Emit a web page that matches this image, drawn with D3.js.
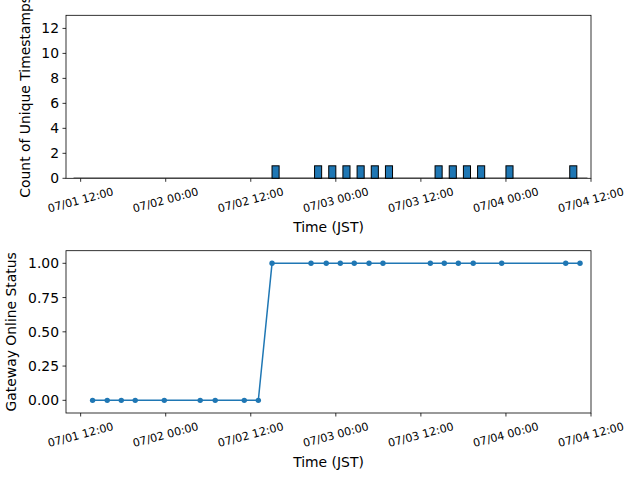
<!DOCTYPE html>
<html>
<head>
<meta charset="utf-8">
<script src="https://cdn.jsdelivr.net/npm/d3@7"></script>
<style>
body { margin: 0; background: #fff; }
svg { display: block; font-family: "DejaVu Sans", sans-serif; }
</style>
</head>
<body>
<svg width="640" height="480"></svg>
<script>
// histogram: hourly bins that hold one unique timestamp each
var histBinStarts = ["2024-07-02 15:00", "2024-07-02 21:00", "2024-07-02 23:00", "2024-07-03 01:00",
	"2024-07-03 03:00", "2024-07-03 05:00", "2024-07-03 07:00", "2024-07-03 14:00", "2024-07-03 16:00",
	"2024-07-03 18:00", "2024-07-03 20:00", "2024-07-04 00:00", "2024-07-04 09:00"];
var histCounts = [1, 1, 1, 1, 1, 1, 1, 1, 1, 1, 1, 1, 1];
var histRange = ["2024-07-01 11:00", "2024-07-04 11:30"];

// gateway status samples
var statusTimes = ["2024-07-01 13:41", "2024-07-01 15:45", "2024-07-01 17:44", "2024-07-01 19:42",
	"2024-07-01 23:48", "2024-07-02 04:52", "2024-07-02 06:59", "2024-07-02 11:05", "2024-07-02 13:04",
	"2024-07-02 15:00", "2024-07-02 20:30", "2024-07-02 22:39", "2024-07-03 00:38", "2024-07-03 02:36",
	"2024-07-03 04:41", "2024-07-03 06:39", "2024-07-03 13:20", "2024-07-03 15:18", "2024-07-03 17:17",
	"2024-07-03 19:23", "2024-07-03 23:24", "2024-07-04 08:26", "2024-07-04 10:27"];
var statusValues = [0, 0, 0, 0, 0, 0, 0, 0, 0,
	1, 1, 1, 1, 1, 1, 1, 1, 1, 1, 1, 1, 1, 1];

var countTicks = [0, 2, 4, 6, 8, 10, 12];
var statusTicks = [0, 0.25, 0.5, 0.75, 1];
var xDomain = ["2024-07-01 09:56", "2024-07-04 12:00"];

var parse = d3.timeParse("%Y-%m-%d %H:%M"),
	fmt = d3.timeFormat("%m/%d %H:%M"),
	blue = "#1f77b4";

var svg = d3.select("svg");

var x = d3.scaleTime().domain(xDomain.map(parse)).range([66, 591]);
var timeTicks = d3.timeHour.every(12).range(x.domain()[0], d3.timeMinute.offset(x.domain()[1], 1));

var yTop = d3.scaleLinear().domain([0, 13.05]).range([178.3, 15.3]);
var yBot = d3.scaleLinear().domain([-0.0925, 1.092]).range([413, 250.7]);

function frame(y, top, bottom) {
	var g = svg.append("g");
	// x ticks
	timeTicks.forEach(function (t) {
		var tx = x(t);
		g.append("line").attr("x1", tx).attr("x2", tx).attr("y1", bottom).attr("y2", bottom + 3.5)
			.attr("stroke", "#000").attr("stroke-width", 0.8);
		var lab = g.append("text").text(fmt(t)).attr("font-size", 11.1).attr("fill", "#000")
			.attr("text-anchor", "middle").attr("dominant-baseline", "central");
		var w = lab.node().getComputedTextLength(),
			h = w * Math.sin(15 * Math.PI / 180) + 13 * Math.cos(15 * Math.PI / 180),
			cy = bottom + 7 + h / 2;
		lab.attr("x", tx).attr("y", cy).attr("transform", "rotate(-15," + tx + "," + cy + ")");
	});
	g.append("text").text("Time (JST)").attr("x", (66 + 591) / 2).attr("y", bottom + 54)
		.attr("text-anchor", "middle").attr("font-size", 13.9).attr("fill", "#000");
	return g;
}

function yTicks(g, y, vals, f) {
	vals.forEach(function (v) {
		g.append("line").attr("x1", 62.5).attr("x2", 66).attr("y1", y(v)).attr("y2", y(v))
			.attr("stroke", "#000").attr("stroke-width", 0.8);
		g.append("text").text(f(v)).attr("x", 59).attr("y", y(v)).attr("text-anchor", "end")
			.attr("dominant-baseline", "central").attr("font-size", 13.9).attr("fill", "#000");
	});
}

// ---- top: histogram
var g1 = frame(yTop, 15.3, 178.3);
yTicks(g1, yTop, countTicks, d3.format("d"));
g1.append("text").text("Count of Unique Timestamps").attr("font-size", 13.9).attr("fill", "#000")
	.attr("text-anchor", "middle").attr("transform", "translate(30," + (15.3 + 178.3) / 2 + ") rotate(-90)");

g1.append("line").attr("x1", x(parse(histRange[0]))).attr("x2", x(parse(histRange[1])))
	.attr("y1", yTop(0) - 0.7).attr("y2", yTop(0) - 0.7).attr("stroke", "#aaa").attr("stroke-width", 1.4);

g1.selectAll(".bar").data(histBinStarts).enter().append("rect").attr("class", "bar")
	.attr("x", function (d) { return x(parse(d)); })
	.attr("width", function (d) { return x(d3.timeHour.offset(parse(d), 1)) - x(parse(d)); })
	.attr("y", function (d, i) { return yTop(histCounts[i]); })
	.attr("height", function (d, i) { return yTop(0) - yTop(histCounts[i]); })
	.attr("fill", blue).attr("stroke", "#000").attr("stroke-width", 1);

g1.append("rect").attr("x", 66).attr("y", 15.3).attr("width", 525).attr("height", 163)
	.attr("fill", "none").attr("stroke", "#000").attr("stroke-width", 0.8);

// ---- bottom: status line
var g2 = frame(yBot, 250.7, 413);
yTicks(g2, yBot, statusTicks, d3.format(".2f"));
g2.append("text").text("Gateway Online Status").attr("font-size", 13.9).attr("fill", "#000")
	.attr("text-anchor", "middle").attr("transform", "translate(16," + (250.7 + 413) / 2 + ") rotate(-90)");

var pts = statusTimes.map(function (t, i) { return [parse(t), statusValues[i]]; });
var line = d3.line().x(function (d) { return x(d[0]); }).y(function (d) { return yBot(d[1]); });

g2.append("path").datum(pts).attr("d", line).attr("fill", "none")
	.attr("stroke", blue).attr("stroke-width", 1.5);
g2.selectAll(".pt").data(pts).enter().append("circle").attr("class", "pt")
	.attr("cx", function (d) { return x(d[0]); }).attr("cy", function (d) { return yBot(d[1]); })
	.attr("r", 2.7).attr("fill", blue);

g2.append("rect").attr("x", 66).attr("y", 250.7).attr("width", 525).attr("height", 162.3)
	.attr("fill", "none").attr("stroke", "#000").attr("stroke-width", 0.8);
</script>
</body>
</html>
